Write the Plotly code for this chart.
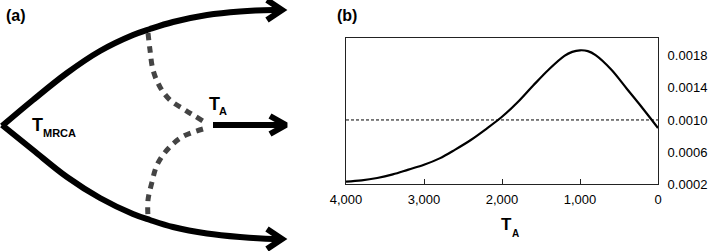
import plotly.graph_objects as go

# ---------------- Panel (b) data ----------------
t_a = [4000, 3800, 3600, 3400, 3200, 3000, 2800, 2600, 2400, 2200, 2000, 1800, 1600,
       1400, 1200, 1100, 1000, 900, 800, 600, 400, 200, 0]
density = [0.00023, 0.000245, 0.000275, 0.00032, 0.00038, 0.00044, 0.00052, 0.00063,
           0.00075, 0.00089, 0.00104, 0.00122, 0.00143, 0.00163, 0.00180, 0.00185,
           0.00187, 0.00186, 0.00181, 0.00163, 0.00139, 0.00115, 0.00090]
ref_level = 0.0010
x_ticks = [4000, 3000, 2000, 1000, 0]
y_ticks = [0.0002, 0.0006, 0.0010, 0.0014, 0.0018]

# ---------------- Panel (a) schematic (pixel-like units) ----------------
upper_x = [2, 33, 67, 100, 133, 150, 173, 207, 240, 273, 280]
upper_y = [126, 100, 73, 51, 35, 29, 22, 15, 11.5, 10, 10]
lower_x = [2, 33, 67, 100, 133, 150, 173, 207, 240, 273, 280]
lower_y = [125, 150, 177, 198, 214, 220, 227, 233.5, 237, 239, 239]
mid_x = [213, 283]
mid_y = [125, 125]
head_up_x, head_up_y = [267, 282, 267], [0, 10, 20]
head_mid_x, head_mid_y = [270, 286, 270], [116, 125, 134]
head_lo_x, head_lo_y = [267, 282, 267], [229, 239, 249]
dash_up_x = [148, 150, 153, 160, 170, 185, 203]
dash_up_y = [33, 50, 70, 87, 100, 110, 121]
dash_lo_x = [203, 182, 167, 157, 152, 148, 148]
dash_lo_y = [129, 137, 150, 165, 182, 200, 217]

FONT = "Liberation Sans, Arial, Helvetica, sans-serif"
W, H = 709, 251
FRAME = "#222222"

fig = go.Figure()

def add_line(x, y, width, color="black", dash=None, shape="spline"):
    fig.add_trace(go.Scatter(x=x, y=y, mode="lines", xaxis="x2", yaxis="y2",
                             line=dict(color=color, width=width, dash=dash,
                                       shape=shape, smoothing=1.0),
                             hoverinfo="skip", showlegend=False))

add_line(upper_x, upper_y, 6)
add_line(lower_x, lower_y, 6)
add_line(mid_x, mid_y, 6, shape="linear")
for hx, hy in [(head_up_x, head_up_y), (head_mid_x, head_mid_y), (head_lo_x, head_lo_y)]:
    add_line(hx, hy, 6, shape="linear")
add_line(dash_up_x, dash_up_y, 5, color="#444444", dash="7px,6px")
add_line(dash_lo_x, dash_lo_y, 5, color="#444444", dash="7px,6px")

# Panel (b)
fig.add_trace(go.Scatter(x=[x_ticks[0], x_ticks[-1]], y=[ref_level, ref_level],
                         mode="lines", line=dict(color="black", width=1, dash="3px,2px"),
                         hoverinfo="skip", showlegend=False))
fig.add_trace(go.Scatter(x=t_a, y=density, mode="lines",
                         line=dict(color="black", width=2.2, shape="spline", smoothing=1.0),
                         hoverinfo="skip", showlegend=False))

ann = [
    dict(text="<b>(a)</b>", xref="paper", yref="paper", x=4 / W, y=1 - 16 / H,
         xanchor="left", yanchor="middle", font=dict(size=16)),
    dict(text="<b>(b)</b>", xref="paper", yref="paper", x=335 / W, y=1 - 16 / H,
         xanchor="left", yanchor="middle", font=dict(size=16)),
    dict(text="<b>T</b>", xref="x2", yref="y2", x=37, y=125,
         xanchor="center", yanchor="middle", font=dict(size=18)),
    dict(text="<b>MRCA</b>", xref="x2", yref="y2", x=59, y=133,
         xanchor="center", yanchor="middle", font=dict(size=11)),
    dict(text="<b>T</b>", xref="x2", yref="y2", x=214, y=104,
         xanchor="center", yanchor="middle", font=dict(size=18)),
    dict(text="<b>A</b>", xref="x2", yref="y2", x=223, y=111,
         xanchor="center", yanchor="middle", font=dict(size=11)),
    dict(text="<b>T</b>", xref="paper", yref="paper", x=506 / W, y=1 - 224 / H,
         xanchor="center", yanchor="middle", font=dict(size=17)),
    dict(text="<b>A</b>", xref="paper", yref="paper", x=515 / W, y=1 - 233 / H,
         xanchor="center", yanchor="middle", font=dict(size=10)),
]
for a in ann:
    a["showarrow"] = False
    a["font"]["family"] = FONT
    a["font"]["color"] = "black"

fig.update_layout(
    width=W, height=H,
    margin=dict(l=0, r=0, t=0, b=0, pad=0, autoexpand=False),
    paper_bgcolor="white", plot_bgcolor="white",
    font=dict(family=FONT, size=13, color="black"),
    showlegend=False,
    annotations=ann,
    xaxis=dict(domain=[346 / W, 658 / W], range=[4000, 0], tickvals=x_ticks,
               ticktext=[f"{v:,}" for v in x_ticks],
               ticks="inside", ticklen=5, tickcolor=FRAME, tickwidth=1,
               showline=True, linecolor=FRAME, linewidth=1, mirror=True,
               showgrid=False, zeroline=False, fixedrange=True, automargin=False,
               ticklabelstandoff=3, tickfont=dict(size=13)),
    yaxis=dict(domain=[1 - 184 / H, 1 - 38.3 / H], range=[0.0002, 0.00202],
               side="right", tickvals=y_ticks,
               ticktext=[f"{v:.4f}" for v in y_ticks],
               ticks="", showline=True, linecolor=FRAME, linewidth=1, mirror=True,
               showgrid=False, zeroline=False, fixedrange=True, automargin=False,
               ticklabelstandoff=6, tickfont=dict(size=13)),
    xaxis2=dict(domain=[0, 300 / W], range=[0, 300], anchor="y2", visible=False,
                fixedrange=True, automargin=False),
    yaxis2=dict(domain=[0, 1], range=[251, 0], anchor="x2", visible=False,
                fixedrange=True, automargin=False),
)

fig.write_html("out.html", config={"displayModeBar": False},
               post_script="document.body.style.margin='0';document.body.style.overflow='hidden';")
